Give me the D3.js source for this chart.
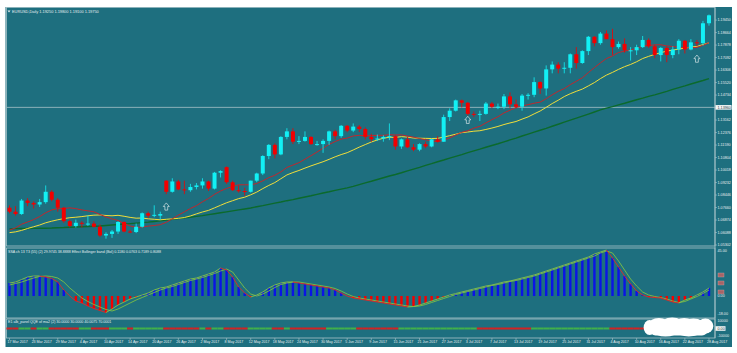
<!DOCTYPE html>
<html>
<head>
<meta charset="utf-8">
<script src="https://cdn.jsdelivr.net/npm/d3@7"></script>
<style>
  html, body { margin: 0; padding: 0; background: #fff; }
  svg { display: block; font-family: "Liberation Sans", Arial, sans-serif; }
</style>
</head>
<body>
<svg id="chart" width="737" height="353"></svg>
<script>
// EURUSD daily, 17 Mar 2017 .. 28 Aug 2017
const symbol = "EURUSD,Daily";

const dateTicks = ["17 Mar 2017","23 Mar 2017","29 Mar 2017","4 Apr 2017","10 Apr 2017","14 Apr 2017",
  "20 Apr 2017","26 Apr 2017","2 May 2017","8 May 2017","12 May 2017","18 May 2017","24 May 2017",
  "30 May 2017","5 Jun 2017","9 Jun 2017","15 Jun 2017","21 Jun 2017","27 Jun 2017","3 Jul 2017",
  "7 Jul 2017","13 Jul 2017","19 Jul 2017","25 Jul 2017","31 Jul 2017","4 Aug 2017","10 Aug 2017",
  "16 Aug 2017","22 Aug 2017","28 Aug 2017"];
const dateTickEvery = 4;

const opens = [1.0765,1.0740,1.0725,1.0810,1.0795,1.0785,1.0800,1.0865,1.0815,1.0765,
  1.0680,1.0650,1.0670,1.0665,1.0665,1.0645,1.0590,1.0600,1.0615,1.0675,
  1.0615,1.0612,1.0645,1.0730,1.0715,1.0715,1.0935,1.0865,1.0930,1.0880,
  1.0875,1.0895,1.0905,1.0930,1.0885,1.0985,1.1020,1.0925,1.0875,1.0870,
  1.0865,1.0935,1.0980,1.1090,1.1160,1.1100,1.1210,1.1245,1.1180,1.1185,
  1.1210,1.1165,1.1165,1.1185,1.1245,1.1215,1.1280,1.1250,1.1275,1.1260,
  1.1210,1.1195,1.1200,1.1210,1.1215,1.1150,1.1195,1.1145,1.1130,1.1165,
  1.1150,1.1195,1.1180,1.1335,1.1375,1.1440,1.1425,1.1355,1.1350,1.1355,
  1.1420,1.1400,1.1400,1.1465,1.1415,1.1400,1.1470,1.1475,1.1555,1.1515,
  1.1635,1.1665,1.1640,1.1645,1.1730,1.1675,1.1750,1.1840,1.1800,1.1860,
  1.1825,1.1775,1.1795,1.1755,1.1755,1.1775,1.1820,1.1780,1.1725,1.1770,
  1.1725,1.1760,1.1815,1.1760,1.1805,1.1800,1.1925];
const highs = [1.0780,1.0775,1.0820,1.0825,1.0805,1.0820,1.0905,1.0875,1.0825,1.0770,
  1.0690,1.0690,1.0680,1.0715,1.0680,1.0660,1.0610,1.0625,1.0680,1.0680,
  1.0625,1.0665,1.0735,1.0740,1.0780,1.0740,1.0938,1.0950,1.0940,1.0935,
  1.0915,1.0920,1.0950,1.0935,1.0990,1.1000,1.1025,1.0935,1.0905,1.0890,
  1.0935,1.0985,1.1095,1.1165,1.1170,1.1215,1.1265,1.1265,1.1215,1.1245,
  1.1215,1.1185,1.1195,1.1250,1.1255,1.1285,1.1285,1.1295,1.1285,1.1270,
  1.1230,1.1225,1.1220,1.1295,1.1220,1.1200,1.1210,1.1165,1.1170,1.1180,
  1.1200,1.1215,1.1350,1.1390,1.1445,1.1445,1.1430,1.1370,1.1375,1.1430,
  1.1430,1.1420,1.1480,1.1490,1.1445,1.1480,1.1485,1.1585,1.1560,1.1660,
  1.1685,1.1680,1.1680,1.1735,1.1775,1.1755,1.1845,1.1845,1.1870,1.1880,
  1.1890,1.1810,1.1830,1.1775,1.1790,1.1845,1.1830,1.1790,1.1775,1.1780,
  1.1780,1.1825,1.1820,1.1825,1.1820,1.1940,1.1980];
const lows = [1.0730,1.0715,1.0720,1.0775,1.0760,1.0770,1.0790,1.0805,1.0740,1.0670,
  1.0640,1.0640,1.0640,1.0650,1.0640,1.0580,1.0570,1.0575,1.0600,1.0610,
  1.0605,1.0605,1.0640,1.0700,1.0705,1.0690,1.0850,1.0860,1.0875,1.0850,
  1.0865,1.0880,1.0885,1.0870,1.0880,1.0955,1.0915,1.0870,1.0860,1.0840,
  1.0860,1.0925,1.0970,1.1070,1.1075,1.1095,1.1195,1.1165,1.1165,1.1180,
  1.1160,1.1155,1.1110,1.1160,1.1195,1.1205,1.1240,1.1240,1.1240,1.1195,
  1.1180,1.1185,1.1180,1.1190,1.1130,1.1135,1.1140,1.1120,1.1120,1.1140,
  1.1145,1.1175,1.1180,1.1310,1.1370,1.1395,1.1345,1.1335,1.1310,1.1350,
  1.1390,1.1385,1.1385,1.1390,1.1390,1.1375,1.1445,1.1460,1.1480,1.1470,
  1.1610,1.1610,1.1610,1.1610,1.1640,1.1670,1.1725,1.1780,1.1790,1.1825,
  1.1725,1.1765,1.1740,1.1690,1.1725,1.1770,1.1770,1.1705,1.1685,1.1680,
  1.1705,1.1730,1.1735,1.1755,1.1780,1.1785,1.1910];
const closes = [1.0740,1.0725,1.0810,1.0795,1.0785,1.0800,1.0865,1.0815,1.0765,1.0680,
  1.0650,1.0670,1.0665,1.0665,1.0645,1.0590,1.0600,1.0615,1.0675,1.0615,
  1.0612,1.0645,1.0730,1.0715,1.0720,1.0725,1.0865,1.0930,1.0880,1.0875,
  1.0895,1.0905,1.0930,1.0885,1.0985,1.0995,1.0925,1.0875,1.0870,1.0865,
  1.0935,1.0980,1.1090,1.1160,1.1100,1.1210,1.1245,1.1180,1.1185,1.1210,
  1.1165,1.1165,1.1185,1.1245,1.1215,1.1280,1.1250,1.1275,1.1260,1.1210,
  1.1195,1.1200,1.1210,1.1215,1.1150,1.1195,1.1145,1.1130,1.1165,1.1150,
  1.1195,1.1180,1.1335,1.1375,1.1440,1.1425,1.1355,1.1350,1.1355,1.1420,
  1.1400,1.1400,1.1465,1.1415,1.1400,1.1470,1.1475,1.1555,1.1515,1.1635,
  1.1665,1.1640,1.1645,1.1730,1.1675,1.1750,1.1840,1.1800,1.1860,1.1825,
  1.1775,1.1795,1.1755,1.1755,1.1775,1.1820,1.1780,1.1725,1.1770,1.1725,
  1.1760,1.1815,1.1760,1.1805,1.1800,1.1925,1.1975];

// moving averages
const maFast = [1.0624,1.0638,1.0661,1.0675,1.0690,1.0709,1.0733,1.0751,1.0759,1.0760,
  1.0764,1.0759,1.0751,1.0745,1.0739,1.0722,1.0707,1.0694,1.0685,1.0665,
  1.0650,1.0641,1.0644,1.0649,1.0653,1.0658,1.0673,1.0695,1.0718,1.0739,
  1.0760,1.0778,1.0802,1.0823,1.0849,1.0870,1.0886,1.0898,1.0909,1.0909,
  1.0909,1.0917,1.0934,1.0954,1.0969,1.0990,1.1018,1.1033,1.1048,1.1070,
  1.1092,1.1115,1.1139,1.1163,1.1181,1.1196,1.1203,1.1216,1.1220,1.1217,
  1.1219,1.1220,1.1220,1.1224,1.1222,1.1223,1.1215,1.1209,1.1200,1.1192,
  1.1186,1.1180,1.1190,1.1204,1.1222,1.1239,1.1249,1.1265,1.1277,1.1298,
  1.1319,1.1337,1.1361,1.1378,1.1395,1.1405,1.1413,1.1422,1.1429,1.1450,
  1.1475,1.1497,1.1514,1.1539,1.1560,1.1582,1.1615,1.1646,1.1676,1.1703,
  1.1720,1.1741,1.1750,1.1757,1.1768,1.1781,1.1785,1.1789,1.1790,1.1782,
  1.1779,1.1775,1.1770,1.1772,1.1773,1.1786,1.1803];
const maMid = [1.0608,1.0613,1.0622,1.0634,1.0645,1.0656,1.0670,1.0680,1.0689,1.0696,
  1.0702,1.0705,1.0709,1.0714,1.0718,1.0719,1.0716,1.0714,1.0717,1.0711,
  1.0704,1.0699,1.0700,1.0695,1.0692,1.0689,1.0692,1.0695,1.0698,1.0703,
  1.0713,1.0726,1.0738,1.0748,1.0764,1.0780,1.0796,1.0809,1.0822,1.0831,
  1.0846,1.0863,1.0885,1.0905,1.0923,1.0947,1.0971,1.0986,1.0999,1.1014,
  1.1028,1.1041,1.1054,1.1069,1.1085,1.1099,1.1111,1.1128,1.1146,1.1162,
  1.1178,1.1191,1.1202,1.1208,1.1207,1.1212,1.1209,1.1203,1.1202,1.1201,
  1.1200,1.1201,1.1209,1.1218,1.1227,1.1237,1.1241,1.1246,1.1249,1.1257,
  1.1266,1.1276,1.1288,1.1298,1.1307,1.1322,1.1336,1.1355,1.1373,1.1396,
  1.1420,1.1441,1.1464,1.1482,1.1497,1.1511,1.1531,1.1552,1.1577,1.1599,
  1.1616,1.1635,1.1652,1.1666,1.1683,1.1703,1.1717,1.1729,1.1740,1.1750,
  1.1756,1.1763,1.1768,1.1776,1.1779,1.1791,1.1802];
const maSlow = [1.0632,1.0633,1.0634,1.0634,1.0635,1.0636,1.0636,1.0637,1.0639,1.0640,
  1.0642,1.0643,1.0645,1.0647,1.0648,1.0650,1.0653,1.0656,1.0659,1.0662,
  1.0665,1.0668,1.0671,1.0674,1.0678,1.0682,1.0687,1.0692,1.0696,1.0701,
  1.0705,1.0710,1.0715,1.0721,1.0727,1.0733,1.0739,1.0745,1.0751,1.0757,
  1.0763,1.0771,1.0778,1.0786,1.0794,1.0801,1.0809,1.0816,1.0824,1.0832,
  1.0840,1.0849,1.0857,1.0865,1.0874,1.0882,1.0890,1.0899,1.0910,1.0921,
  1.0931,1.0942,1.0953,1.0964,1.0974,1.0985,1.0997,1.1008,1.1019,1.1031,
  1.1042,1.1054,1.1065,1.1077,1.1088,1.1099,1.1111,1.1122,1.1133,1.1145,
  1.1156,1.1167,1.1179,1.1191,1.1203,1.1216,1.1228,1.1240,1.1252,1.1264,
  1.1277,1.1290,1.1303,1.1316,1.1328,1.1341,1.1354,1.1367,1.1380,1.1391,
  1.1401,1.1412,1.1422,1.1433,1.1444,1.1454,1.1465,1.1475,1.1486,1.1497,
  1.1509,1.1520,1.1531,1.1543,1.1554,1.1565,1.1577];

const priceTicks = [1.19450,1.18664,1.17878,1.17092,1.16306,1.15520,1.14734,1.13948,1.13162,1.12376,
  1.11590,1.10804,1.10018,1.09232,1.08446,1.07660,1.06874,1.06088,1.05302];
const levelLine = 1.13960;

const arrowBars = [26, 76, 114];
const arrowPrices = [1.0795, 1.1340, 1.1725];

// oscillator window
const oscHist = [13,14,16.5,19,20,20,19,17.5,14,6,
  0,-5,-7,-10,-12.5,-14.5,-16.5,-13,-9,-6,
  -3,-1,1,3,6,8,9,11,13,15,
  17,18,20,22,24,28,26,19,9,3,
  -1,1,4,8,11,13,14,14,13,12,
  11,10,9,8,6,3,0,-2,-3,-4,
  -5,-6,-7,-8,-9,-10,-11,-10.5,-9,-7,
  -5,-3,-1,1,2.5,4,5.5,7,8.5,10,
  11,12.5,14,15,16.5,18,19.5,21,23,25,
  27,29,31,33,35,37,39,42,44,46,
  38,29,20,12,5,1,-1,-1.5,-2,-4,
  -6,-7,-4,-2,1,4,8];
const oscSignal = [11,12.5,14,16,18,19.5,20,19.5,18,14,
  8,3,-2,-5.5,-8.5,-11,-13.5,-15,-13,-10,
  -7,-4,-1.5,1,3.5,6,8,9.5,11.5,13.5,
  15.5,17,18.5,20.5,22.5,25,27,24,16,8,
  2,0,2,5,8.5,11.5,13,14,14,13,
  12,11,10,9,7.5,5,2,-0.5,-2,-3,
  -4,-5,-6,-7,-8,-9,-10,-10.5,-10,-8.5,
  -6.5,-4.5,-2.5,-0.5,1.5,3,4.5,6,7.5,9,
  10.5,11.5,13,14.5,15.5,17,18.5,20,22,24,
  26,28,30,32,34,36,38,40,43,45,
  43,35,26,17,10,4,1,-0.5,-1.5,-3,
  -5,-6.5,-5.5,-3,-0.5,2.5,6];
const oscTicks = [45, 0, -18];
const oscMarks = [21, 13, 4];

// bottom panel state per bar: G = up, R = down
const panelState = ("RRGGRGGRRRRRGGRRRGGGRGGGGGRRRRRRGRGGRRRRGGGGRRGRRRRRRGGGGGRRRRRRR" +
  "GGGGGGGGGGGGGRRRRRRRRRGGGGGGGGGGGGGRRRRRRRRRRRRRRRRR").split("");
const panelTicks = [10000, 0, -10000];

const oscTitle = "SSA ch 13    T3 (55) (2) 29.9745 38.8888   Effect Bollinger band (Bol) 0.1180 0.0763 0.7189 0.8088";
const panelTitle = "E1 alb_panel QQE of ma2 (2) 30.0000 30.0000 40.0075 70.0001";

// ---------------------------------------------------------------
const svg = d3.select("#chart");
const bg = "#1e6f7f", frame = "#a7c3c9", txt = "#e6eef0";
const left = 6.5, right = 715;
const N = closes.length;

svg.append("rect").attr("x", 5.5).attr("y", 7).attr("width", 726.5).attr("height", 340).attr("fill", bg);

const x = d3.scaleBand().domain(d3.range(N)).range([left, 712]);
const cx = i => x(i) + x.bandwidth() / 2;

const y = d3.scaleLinear().domain([1.0524, 1.2021]).range([246, 8]);
const yo = d3.scaleLinear().domain([-22, 47]).range([318, 249]);
const yb = d3.scaleLinear().domain([-12000, 12000]).range([337.5, 319.5]);

// panel frames
[[7.5, 246], [248, 318], [319, 338]].forEach(([t, b]) => {
  svg.append("rect").attr("x", left).attr("y", t).attr("width", right - left).attr("height", b - t)
    .attr("fill", "none").attr("stroke", frame).attr("stroke-width", 0.8);
});

svg.append("clipPath").attr("id", "clipMain").append("rect")
  .attr("x", left).attr("y", 8).attr("width", right - left).attr("height", 238);
const main = svg.append("g").attr("clip-path", "url(#clipMain)");

// level line
main.append("line").attr("x1", left).attr("x2", right).attr("y1", y(levelLine)).attr("y2", y(levelLine))
  .attr("stroke", "#b9cdd1").attr("stroke-width", 0.7);

// moving averages
const maLine = d3.line().x((d, i) => cx(i)).y(d => y(d));
main.append("path").datum(maSlow).attr("d", maLine).attr("fill", "none").attr("stroke", "#0b6a2c").attr("stroke-width", 1.4);
main.append("path").datum(maMid).attr("d", maLine).attr("fill", "none").attr("stroke", "#f2de3a").attr("stroke-width", 1);
main.append("path").datum(maFast).attr("d", maLine).attr("fill", "none").attr("stroke", "#c1272d").attr("stroke-width", 1);

// candles
const bull = "#12f0f5", bear = "#f20000";
const candles = main.selectAll("g.c").data(d3.range(N)).enter().append("g").attr("class", "c");
candles.append("line")
  .attr("x1", i => cx(i)).attr("x2", i => cx(i))
  .attr("y1", i => y(highs[i])).attr("y2", i => y(lows[i]))
  .attr("stroke", i => closes[i] >= opens[i] ? bull : bear).attr("stroke-width", 0.8);
candles.append("rect")
  .attr("x", i => cx(i) - 2).attr("width", 4)
  .attr("y", i => y(Math.max(opens[i], closes[i])))
  .attr("height", i => Math.max(1, Math.abs(y(opens[i]) - y(closes[i]))))
  .attr("fill", i => closes[i] >= opens[i] ? bull : bear);

// arrows
arrowBars.forEach((b, k) => {
  const ax = cx(b), ay = y(arrowPrices[k]);
  main.append("path")
    .attr("d", `M${ax},${ay} l3,3.6 h-1.6 v3.6 h-2.8 v-3.6 h-1.6 z`)
    .attr("fill", "none").attr("stroke", "#f4f8f8").attr("stroke-width", 0.6);
});

// price axis
svg.append("line").attr("x1", right).attr("x2", right).attr("y1", 7.5).attr("y2", 338).attr("stroke", frame).attr("stroke-width", 0.8);
priceTicks.forEach(t => {
  svg.append("line").attr("x1", right).attr("x2", right + 2).attr("y1", y(t)).attr("y2", y(t)).attr("stroke", frame).attr("stroke-width", 0.6);
  svg.append("text").attr("x", 717.5).attr("y", y(t) + 1.3).attr("font-size", 3.7).attr("fill", txt).text(t.toFixed(5));
});
svg.append("rect").attr("x", 715.5).attr("y", y(levelLine) - 2.3).attr("width", 16).attr("height", 4.6).attr("fill", "#f4f6f6");
svg.append("text").attr("x", 717.5).attr("y", y(levelLine) + 1.3).attr("font-size", 3.7).attr("fill", "#1b3a40").text(levelLine.toFixed(5));

// header
svg.append("path").attr("d", "M7.5,10.5 h3 l-1.5,2 z").attr("fill", txt);
svg.append("text").attr("x", 12).attr("y", 13).attr("font-size", 3.9).attr("fill", txt)
  .text(`${symbol}  ${opens[N - 1].toFixed(5)} ${highs[N - 1].toFixed(5)} ${lows[N - 1].toFixed(5)} ${closes[N - 1].toFixed(5)}`);

// oscillator
const osc = svg.append("g");
osc.selectAll("rect").data(oscHist).enter().append("rect")
  .attr("x", (d, i) => cx(i) - 1.2).attr("width", 2.4)
  .attr("y", d => Math.min(yo(0), yo(d)))
  .attr("height", d => Math.abs(yo(d) - yo(0)))
  .attr("fill", d => d >= 0 ? "#0a14e6" : "#f40000");
osc.append("path").datum(oscSignal).attr("d", d3.line().x((d, i) => cx(i)).y(d => yo(d)))
  .attr("fill", "none").attr("stroke", "#7dbf45").attr("stroke-width", 0.9);
for (let i = 1; i < N; i++) {
  osc.append("line").attr("x1", cx(i - 1)).attr("x2", cx(i))
    .attr("y1", yo(oscHist[i - 1])).attr("y2", yo(oscHist[i]))
    .attr("stroke", oscHist[i] >= oscHist[i - 1] ? "#86c24a" : "#e02828").attr("stroke-width", 0.9);
}
svg.append("text").attr("x", 8).attr("y", 252.8).attr("font-size", 3.6).attr("fill", txt).text(oscTitle);
oscTicks.forEach(t => {
  svg.append("text").attr("x", 717.5).attr("y", yo(t) + 1.3).attr("font-size", 3.7).attr("fill", txt).text(t.toFixed(2));
});
oscMarks.forEach(t => {
  svg.append("rect").attr("x", 718).attr("y", yo(t) - 2).attr("width", 6).attr("height", 4)
    .attr("fill", "#a86467").attr("stroke", "#c9a0a0").attr("stroke-width", 0.4);
});

// bottom state panel
const st = svg.append("g");
st.selectAll("line").data(panelState).enter().append("line")
  .attr("x1", (d, i) => x(i)).attr("x2", (d, i) => x(i) + x.step())
  .attr("y1", yb(0)).attr("y2", yb(0))
  .attr("stroke", d => d === "G" ? "#41b04a" : "#d22323").attr("stroke-width", 2);
svg.append("text").attr("x", 8).attr("y", 323.3).attr("font-size", 3.6).attr("fill", txt).text(panelTitle);
panelTicks.forEach(t => {
  if (t === 0) {
    svg.append("rect").attr("x", 715.5).attr("y", yb(t) - 2.3).attr("width", 10).attr("height", 4.6).attr("fill", "#f4f6f6");
    svg.append("text").attr("x", 717.5).attr("y", yb(t) + 1.3).attr("font-size", 3.7).attr("fill", "#1b3a40").text(t.toFixed(2));
  } else {
    svg.append("text").attr("x", 717.5).attr("y", yb(t) + 1.3).attr("font-size", 3.7).attr("fill", txt).text(t);
  }
});

// censor blob over the right part of the bottom panel (one merged cloud)
const blob = svg.append("g").attr("fill", "#ffffff");
const blobX0 = cx(105) + 3, blobX1 = cx(116) + 3;
blob.append("rect").attr("x", blobX0 + 4).attr("y", 320).attr("width", blobX1 - blobX0 - 8).attr("height", 15.5).attr("rx", 6);
[[0.06, 327.5, 6, 7.5], [0.2, 324, 10, 6], [0.4, 325.5, 12, 8], [0.58, 323.5, 10, 5.5],
 [0.72, 327, 12, 8.5], [0.9, 326, 8, 7.5], [0.3, 331, 12, 5.5], [0.65, 331.5, 12, 5]].forEach(([f, cy, rx, ry]) => {
  blob.append("ellipse").attr("cx", blobX0 + f * (blobX1 - blobX0)).attr("cy", cy).attr("rx", rx).attr("ry", ry);
});

// date axis
dateTicks.forEach((t, k) => {
  const bx = cx(k * dateTickEvery);
  svg.append("line").attr("x1", bx).attr("x2", bx).attr("y1", 338).attr("y2", 340).attr("stroke", frame).attr("stroke-width", 0.6);
  svg.append("text").attr("x", bx - 2).attr("y", 342.8).attr("font-size", 3.6).attr("fill", txt).text(t);
});
</script>
</body>
</html>
